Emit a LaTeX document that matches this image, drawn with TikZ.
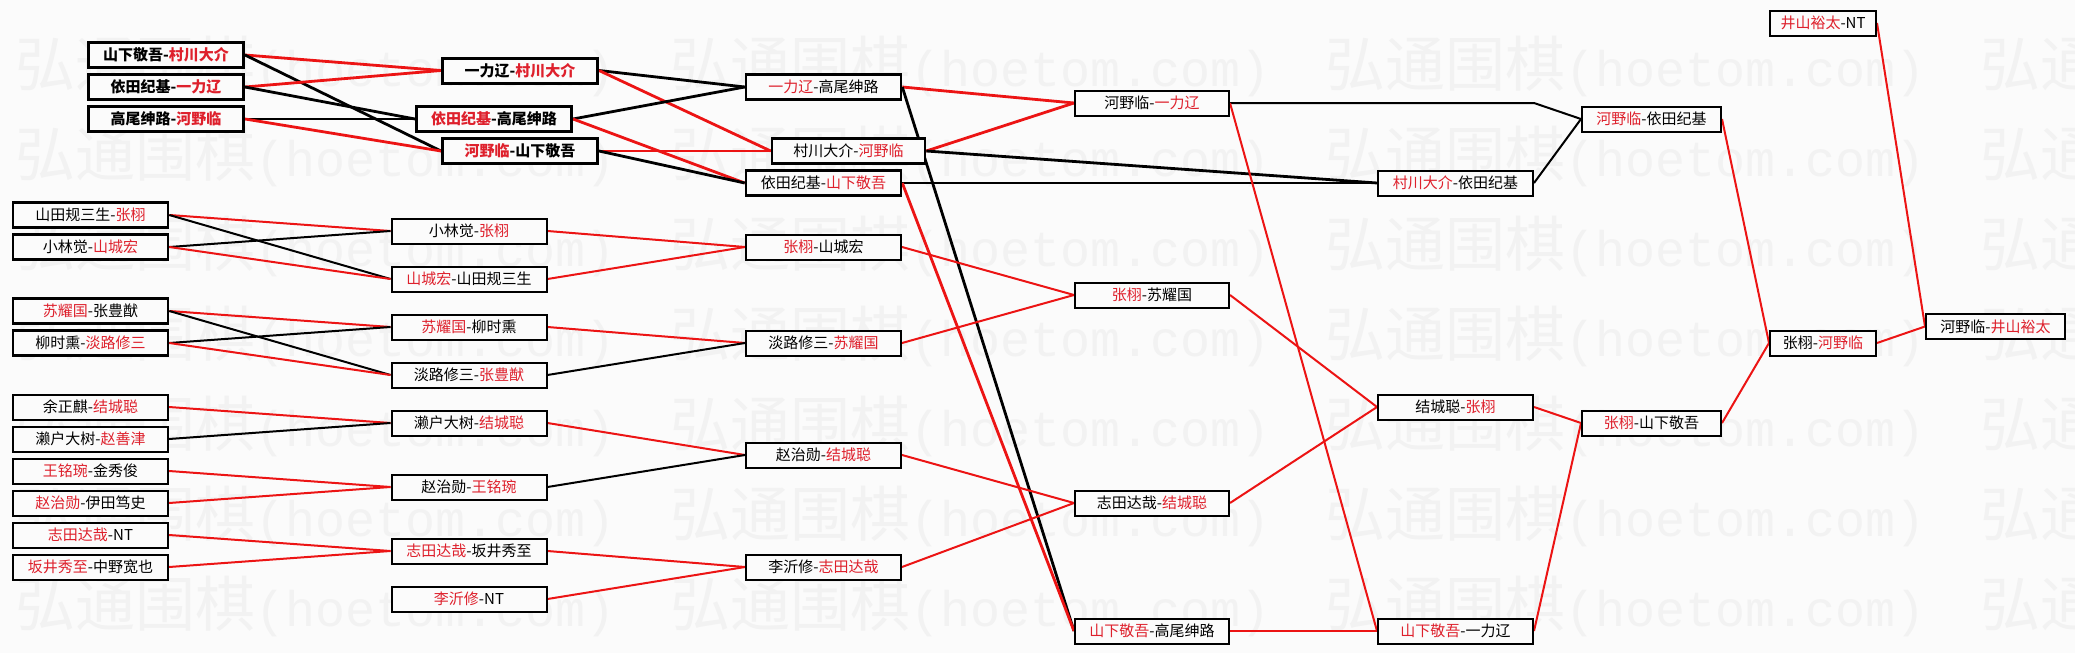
\documentclass[tikz,border=0pt]{standalone}
\usepackage{fontspec}
\usepackage{tikz}
\usetikzlibrary{backgrounds}
\newfontfamily\cjk{Noto Sans CJK SC}
\newfontfamily\wmmono{Liberation Mono}
\definecolor{hoered}{RGB}{236,20,20}
\definecolor{hoetext}{RGB}{222,32,44}
\definecolor{hoebg}{RGB}{251,251,251}
\definecolor{hoemark}{RGB}{242,242,242}
\newcommand{\wn}[1]{\textcolor{hoetext}{#1}}

\begin{document}
\begin{tikzpicture}[
    x=1pt, y=-1pt,
    match/.style={draw, line width=2pt, fill=hoebg, minimum width=155pt, minimum height=25pt, inner sep=0pt, font=\cjk\fontsize{15}{15}\selectfont},
    seed/.style={line width=3pt, font=\cjk\bfseries\fontsize{15}{15}\selectfont},
    win/.style={draw=hoered, line width=2pt},
    lose/.style={draw=black, line width=2pt},
    heavy/.style={line width=2.8pt},
    wmtext/.style={text=hoemark, inner sep=0pt, anchor=west}
]
\useasboundingbox (0,0) rectangle (2075,653);

% Top group, round 1
\node[match, seed] (a1) at (166,55) {山下敬吾-\wn{村川大介}};
\node[match, seed] (a2) at (166,87) {依田纪基-\wn{一力辽}};
\node[match, seed] (a3) at (166,119) {高尾绅路-\wn{河野临}};

% Top group, round 2
\node[match, seed] (b1) at (520,70.5) {一力辽-\wn{村川大介}};
\node[match, seed] (b2) at (494,119) {\wn{依田纪基}-高尾绅路};
\node[match, seed] (b3) at (520,151) {\wn{河野临}-山下敬吾};

% Top group, round 3
\node[match, line width=2.6pt] (c1) at (823.5,87) {\wn{一力辽}-高尾绅路};
\node[match, line width=2.6pt, minimum width=153pt] (c2) at (848.5,151) {村川大介-\wn{河野临}};
\node[match, line width=2.6pt] (c3) at (823.5,183) {依田纪基-\wn{山下敬吾}};

% Lower group, round 1
\node[match, line width=2.6pt] (l1) at (90.5,215) {山田规三生-\wn{张栩}};
\node[match, line width=2.6pt] (l2) at (90.5,247) {小林觉-\wn{山城宏}};
\node[match, line width=2.6pt] (l3) at (90.5,311) {\wn{苏耀国}-张豊猷};
\node[match, line width=2.6pt] (l4) at (90.5,343) {柳时熏-\wn{淡路修三}};
\node[match] (l5) at (90.5,407) {余正麒-\wn{结城聪}};
\node[match] (l6) at (90.5,439) {濑户大树-\wn{赵善津}};
\node[match] (l7) at (90.5,471) {\wn{王铭琬}-金秀俊};
\node[match] (l8) at (90.5,503) {\wn{赵治勋}-伊田笃史};
\node[match] (l9) at (90.5,535) {\wn{志田达哉}-NT};
\node[match] (l10) at (90.5,567) {\wn{坂井秀至}-中野宽也};

% Lower group, round 2
\node[match] (m1) at (469,231) {小林觉-\wn{张栩}};
\node[match] (m2) at (469,279) {\wn{山城宏}-山田规三生};
\node[match] (m3) at (469,327) {\wn{苏耀国}-柳时熏};
\node[match] (m4) at (469,375) {淡路修三-\wn{张豊猷}};
\node[match] (m5) at (469,423) {濑户大树-\wn{结城聪}};
\node[match] (m6) at (469,487) {赵治勋-\wn{王铭琬}};
\node[match] (m7) at (469,551) {\wn{志田达哉}-坂井秀至};
\node[match] (m8) at (469,599) {\wn{李沂修}-NT};

% Lower group, round 3
\node[match] (n1) at (823.5,247) {\wn{张栩}-山城宏};
\node[match] (n2) at (823.5,343) {淡路修三-\wn{苏耀国}};
\node[match] (n3) at (823.5,455) {赵治勋-\wn{结城聪}};
\node[match] (n4) at (823.5,567) {李沂修-\wn{志田达哉}};

% Round 4
\node[match, minimum width=154pt] (d1) at (1152,103) {河野临-\wn{一力辽}};
\node[match, minimum width=154pt] (d2) at (1152,295) {\wn{张栩}-苏耀国};
\node[match, minimum width=154pt] (d3) at (1152,503) {志田达哉-\wn{结城聪}};
\node[match, minimum width=154pt] (d4) at (1152,631) {\wn{山下敬吾}-高尾绅路};

% Round 5
\node[match] (e1) at (1455.5,183) {\wn{村川大介}-依田纪基};
\node[match] (e2) at (1455.5,407) {结城聪-\wn{张栩}};
\node[match] (e3) at (1455.5,631) {\wn{山下敬吾}-一力辽};

% Round 6
\node[match, minimum width=139pt] (f1) at (1651.5,119) {\wn{河野临}-依田纪基};
\node[match, minimum width=139pt] (f2) at (1651.5,423) {\wn{张栩}-山下敬吾};

% Round 7
\node[match, minimum width=106pt] (g1) at (1823,23) {\wn{井山裕太}-NT};
\node[match, minimum width=106pt] (g2) at (1823,343) {张栩-\wn{河野临}};

% Final
\node[match, minimum width=139pt] (h1) at (1995.5,326.5) {河野临-\wn{井山裕太}};

% Watermark
\begin{scope}[on background layer]
\clip (0,0) rectangle (2075,653);
\fill[hoebg] (0,0) rectangle (2075,653);
\foreach \r in {0,...,6}
  \foreach \c in {0,...,3}
    \node[wmtext] (wm-\r-\c) at ({15+655*\c},{66+90*\r}) {{\cjk\fontsize{60}{60}\selectfont 弘通围棋}{\wmmono\fontsize{50}{50}\selectfont(hoetom.com)}};
\end{scope}

% Connectors
\begin{scope}[on background layer]
% top group
\draw[win, heavy] (a1.east) -- (b1.west);
\draw[lose, heavy] (a1.east) -- (b3.west);
\draw[win, heavy] (a2.east) -- (b1.west);
\draw[lose, heavy] (a2.east) -- (b2.west);
\draw[lose, heavy] (a3.east) -- (b2.west);
\draw[win, heavy] (a3.east) -- (b3.west);
\draw[lose, heavy] (b1.east) -- (c1.west);
\draw[win, heavy] (b1.east) -- (c2.west);
\draw[lose, heavy] (b2.east) -- (c1.west);
\draw[win, heavy] (b2.east) -- (c3.west);
\draw[win, heavy] (b3.east) -- (c2.west);
\draw[lose, heavy] (b3.east) -- (c3.west);
\draw[win, heavy] (c1.east) -- (d1.west);
\draw[lose, heavy] (c1.east) -- (d4.west);
\draw[win, heavy] (c2.east) -- (d1.west);
\draw[lose, heavy] (c2.east) -- (e1.west);
\draw[lose, heavy] (c3.east) -- (e1.west);
\draw[win, heavy] (c3.east) -- (d4.west);

% lower group
\draw[win] (l1.east) -- (m1.west);
\draw[lose] (l1.east) -- (m2.west);
\draw[lose] (l2.east) -- (m1.west);
\draw[win] (l2.east) -- (m2.west);
\draw[win] (l3.east) -- (m3.west);
\draw[lose] (l3.east) -- (m4.west);
\draw[lose] (l4.east) -- (m3.west);
\draw[win] (l4.east) -- (m4.west);
\draw[win] (l5.east) -- (m5.west);
\draw[lose] (l6.east) -- (m5.west);
\draw[win] (l7.east) -- (m6.west);
\draw[win] (l8.east) -- (m6.west);
\draw[win] (l9.east) -- (m7.west);
\draw[win] (l10.east) -- (m7.west);
\draw[win] (m1.east) -- (n1.west);
\draw[win] (m2.east) -- (n1.west);
\draw[win] (m3.east) -- (n2.west);
\draw[lose] (m4.east) -- (n2.west);
\draw[win] (m5.east) -- (n3.west);
\draw[lose] (m6.east) -- (n3.west);
\draw[win] (m7.east) -- (n4.west);
\draw[win] (m8.east) -- (n4.west);
\draw[win] (n1.east) -- (d2.west);
\draw[win] (n2.east) -- (d2.west);
\draw[win] (n3.east) -- (d3.west);
\draw[win] (n4.east) -- (d3.west);

% later rounds
\draw[lose] (d1.east) -- (d1.east -| e1.east) -- (f1.west);
\draw[win] (d1.east) -- (e3.west);
\draw[win] (d2.east) -- (e2.west);
\draw[win] (d3.east) -- (e2.west);
\draw[win] (d4.east) -- (e3.west);
\draw[lose] (e1.east) -- (f1.west);
\draw[win] (e2.east) -- (f2.west);
\draw[win] (e3.east) -- (f2.west);
\draw[win] (f1.east) -- (g2.west);
\draw[win] (f2.east) -- (g2.west);
\draw[win] (g1.east) -- (h1.west);
\draw[win] (g2.east) -- (h1.west);
\end{scope}

\end{tikzpicture}
\end{document}
